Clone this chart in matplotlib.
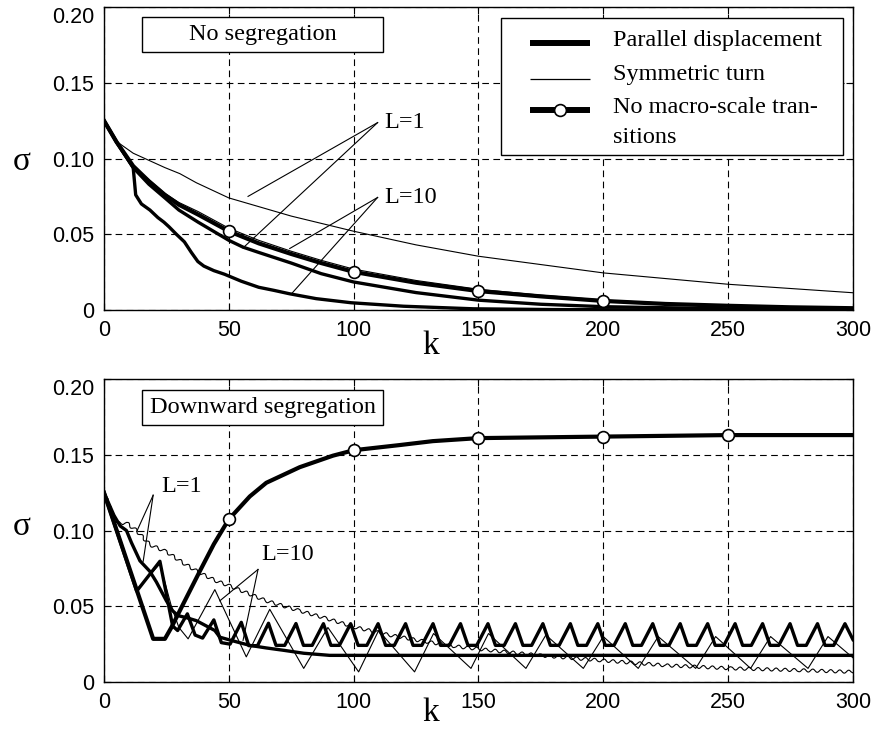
import matplotlib
matplotlib.use("Agg")
import matplotlib.pyplot as plt
from matplotlib.patches import Rectangle
from matplotlib.lines import Line2D

# ---------------- top panel: no segregation ----------------
# symmetric turn, L=1 (thin)
top_sym1_k = [0, 4.4, 11.7, 24.4, 30.4, 37, 50, 75, 100, 125, 150, 175, 200, 250, 300]
top_sym1_s = [0.125, 0.112, 0.1035, 0.094, 0.090, 0.084, 0.074, 0.062, 0.052, 0.043,
              0.0355, 0.030, 0.0245, 0.017, 0.0114]

# symmetric turn, L=10 (thin, just above the no-transition curve)
top_sym10_k = [0, 5, 11.7, 18, 24.4, 30, 37.7, 50, 62, 75, 87, 100, 125, 150, 175, 200,
               225, 250, 275, 300]
top_sym10_s = [0.125, 0.111, 0.095, 0.086, 0.077, 0.071, 0.065, 0.054, 0.046, 0.0388,
               0.0328, 0.027, 0.0195, 0.0137, 0.0098, 0.0066, 0.0045, 0.0031, 0.002, 0.0013]

# no macro-scale transitions (bold + circles)
top_nomacro_k = [0, 5, 11.7, 18, 24.4, 30, 37.7, 50, 62, 75, 87, 100, 125, 150, 175, 200,
                 225, 250, 275, 300]
top_nomacro_s = [0.125, 0.111, 0.095, 0.085, 0.076, 0.0695, 0.063, 0.052, 0.044, 0.037,
                 0.031, 0.0252, 0.018, 0.0125, 0.009, 0.006, 0.004, 0.0028, 0.0018, 0.0012]
top_marker_k = [50, 100, 150, 200]

# parallel displacement, L=1 (bold)
top_par1_k = [0, 5, 11.7, 18, 24.4, 30, 37.7, 50, 55.7, 62, 75, 87, 100, 125, 150, 175,
              200, 250, 300]
top_par1_s = [0.125, 0.111, 0.094, 0.083, 0.074, 0.066, 0.058, 0.046, 0.0415, 0.038,
              0.031, 0.024, 0.0185, 0.0115, 0.0065, 0.0038, 0.0022, 0.0008, 0.0004]

# parallel displacement, L=10 (bold, drops fast)
top_par10_k = [0, 5, 11.7, 12.7, 15, 18.4, 21.6, 24, 26, 29, 32.2, 35, 37.6, 40, 44,
               48.3, 55, 62, 68, 74.4, 85, 99, 120, 148, 180, 220, 300]
top_par10_s = [0.125, 0.111, 0.094, 0.076, 0.070, 0.066, 0.061, 0.058, 0.055,
               0.050, 0.045, 0.038, 0.032, 0.029, 0.026, 0.0236, 0.019, 0.015, 0.013,
               0.0107, 0.0075, 0.0048, 0.0025, 0.0008, 0.0003, 0.0001, 0.0]

# ---------------- bottom panel: downward segregation ----------------
# no macro-scale transitions (bold + circles)
bot_nomacro_k = [0, 19.7, 24.4, 27, 31.7, 38.4, 44, 50, 58.4, 65, 78.4, 91.7, 100, 118.4,
                 131.7, 150, 175, 200, 250, 300]
bot_nomacro_s = [0.125, 0.0285, 0.0285, 0.036, 0.0514, 0.0732, 0.091, 0.1074, 0.1225,
                 0.1315, 0.1418, 0.1494, 0.153, 0.1564, 0.159, 0.161, 0.1615, 0.162,
                 0.163, 0.163]
bot_marker_k = [50, 100, 150, 200, 250]

# parallel displacement, L=1 (bold, stepped descent)
bot_par1_k = [0, 4, 6.5, 9, 11, 14.4, 18.4, 21, 25, 27.5, 29.7, 33, 37, 41, 44.4, 46.4,
              52, 58.4, 65, 71.7, 80, 90.4, 300]
bot_par1_s = [0.125, 0.110, 0.103, 0.100, 0.092, 0.080, 0.073, 0.066, 0.0536, 0.047,
              0.0438, 0.0425, 0.0405, 0.037, 0.034, 0.0296, 0.027, 0.0242, 0.0225, 0.021,
              0.019, 0.0176, 0.0176]

# parallel displacement, L=10 (bold sawtooth): peak, end of fall, end of flat
bot_par10_k = [0, 13.1,
               22.4, 27.5, 29.5, 33.4, 36.5, 39.5, 44.0, 47.0, 50.5, 55.0, 58.0, 61.5,
               65.9, 68.9, 72.4, 76.9, 79.9, 83.4, 87.9, 90.9, 94.3,
               98.8, 101.8, 105.3, 109.8, 112.8, 116.3, 120.8, 123.8, 127.3,
               131.8, 134.8, 138.3, 142.8, 145.8, 149.3, 153.8, 156.8, 160.3,
               164.8, 167.8, 171.3, 175.8, 178.8, 182.3, 186.8, 189.8, 193.3,
               197.8, 200.8, 204.3, 208.8, 211.8, 215.3, 219.8, 222.8, 226.3,
               230.8, 233.8, 237.3, 241.8, 244.8, 248.3, 252.8, 255.8, 259.3,
               263.8, 266.8, 270.3, 274.8, 277.8, 281.3, 285.8, 288.8, 292.3,
               296.8, 300]
bot_par10_s = [0.125, 0.060,
               0.0797, 0.037, 0.034, 0.045, 0.031, 0.029, 0.041, 0.026, 0.025, 0.0394, 0.024, 0.024,
               0.0388, 0.0242, 0.0242, 0.0386, 0.0242, 0.0242, 0.0385, 0.0242, 0.0242,
               0.0385, 0.0242, 0.0242, 0.0385, 0.0242, 0.0242, 0.0385, 0.0242, 0.0242,
               0.0385, 0.0242, 0.0242, 0.0385, 0.0242, 0.0242, 0.0385, 0.0242, 0.0242,
               0.0385, 0.0242, 0.0242, 0.0385, 0.0242, 0.0242, 0.0385, 0.0242, 0.0242,
               0.0385, 0.0242, 0.0242, 0.0385, 0.0242, 0.0242, 0.0385, 0.0242, 0.0242,
               0.0385, 0.0242, 0.0242, 0.0385, 0.0242, 0.0242, 0.0385, 0.0242, 0.0242,
               0.0385, 0.0242, 0.0242, 0.0385, 0.0242, 0.0242, 0.0385, 0.0242, 0.0242,
               0.0385, 0.028]

# symmetric turn, L=1 (thin, small ripples)
bot_sym1_k = [0, 3, 5, 9, 13, 18.4, 25, 31.7, 38.4, 45, 50.4, 65, 78.4, 89, 101, 114.4,
              127.7, 141, 154.4, 175, 198.4, 225, 251.7, 278.4, 300]
bot_sym1_s = [0.125, 0.112, 0.105, 0.105, 0.100, 0.0906, 0.086, 0.0786, 0.072, 0.0667,
              0.0634, 0.0536, 0.047, 0.042, 0.036, 0.031, 0.027, 0.0235, 0.021, 0.0175,
              0.0144, 0.011, 0.009, 0.0078, 0.0067]

# symmetric turn, L=10 (thin, wide oscillation)
bot_sym10_k = [0, 13.1, 22.4, 27, 30, 33.7, 44.4, 57, 66.4, 80, 89.7, 102, 110, 124.4,
               132, 147, 154, 169, 177, 192, 200, 214, 222, 237, 245, 259, 267, 282,
               290, 300]
bot_sym10_s = [0.125, 0.061, 0.078, 0.050, 0.036, 0.0285, 0.061, 0.0166, 0.048, 0.009,
               0.036, 0.0067, 0.034, 0.0067, 0.032, 0.009, 0.032, 0.009, 0.031, 0.009,
               0.030, 0.009, 0.030, 0.009, 0.030, 0.009, 0.030, 0.009, 0.030, 0.016]

y_ticks = [0, 0.05, 0.10, 0.15, 0.20]
y_tick_labels = ["0", "0.05", "0.10", "0.15", "0.20"]
x_ticks = [0, 50, 100, 150, 200, 250, 300]

SERIF = "Liberation Serif"
SANS = "Liberation Sans"
TXT = 17.5
BOLD = 2.4
THIN = 0.8


def style_axes(ax):
    ax.set_xlim(0, 300)
    ax.set_ylim(0, 0.2)
    ax.set_xticks(x_ticks, [str(t) for t in x_ticks])
    ax.set_yticks(y_ticks, y_tick_labels)
    ax.grid(True, color="black", linestyle=(0, (6, 4)), linewidth=0.8)
    ax.tick_params(direction="in", length=5, width=0.8, top=True, right=True,
                   labelsize=15.5, pad=7)
    for lab in ax.get_xticklabels() + ax.get_yticklabels():
        lab.set_fontfamily(SANS)
    for lab in ax.get_yticklabels():
        if lab.get_text() == "0.20":
            lab.set_va("top")
    for sp in ax.spines.values():
        sp.set_linewidth(1.0)


def title_box(ax, text, y0, y1):
    ax.add_patch(Rectangle((0.0503, y0), 0.3227, y1 - y0, transform=ax.transAxes,
                           facecolor="white", edgecolor="black", linewidth=1.0, zorder=6))
    ax.text(0.0503 + 0.3227 / 2, (y0 + y1) / 2, text, transform=ax.transAxes,
            ha="center", va="center", fontsize=TXT, family=SERIF, zorder=7)


def pointer(ax, label, origin, ends, text_xy):
    for e in ends:
        ax.plot([origin[0], e[0]], [origin[1], e[1]], color="black", lw=THIN, zorder=5)
    ax.text(text_xy[0], text_xy[1], label, ha="left", va="center", fontsize=TXT,
            family=SERIF, zorder=7)


def main():
    fig = plt.figure(figsize=(8.76, 7.31), dpi=100)
    ax1 = fig.add_axes([0.1187, 0.5759, 0.855, 0.4145])
    ax2 = fig.add_axes([0.1187, 0.0670, 0.855, 0.4145])

    # top panel
    ax1.plot(top_sym1_k, top_sym1_s, color="black", lw=THIN, zorder=3)
    ax1.plot(top_par10_k, top_par10_s, color="black", lw=BOLD, zorder=3)
    ax1.plot(top_par1_k, top_par1_s, color="black", lw=BOLD, zorder=3)
    ax1.plot(top_sym10_k, top_sym10_s, color="black", lw=THIN, zorder=3)
    ax1.plot(top_nomacro_k, top_nomacro_s, color="black", lw=BOLD + 0.6, zorder=4,
             marker="o", markersize=8.5, markerfacecolor="white",
             markeredgecolor="black", markeredgewidth=1.2,
             markevery=[top_nomacro_k.index(k) for k in top_marker_k])
    style_axes(ax1)
    title_box(ax1, "No segregation", 0.8505, 0.966)
    pointer(ax1, "L=1", (109.6, 0.1237), [(57.7, 0.075), (55.7, 0.041)], (112.4, 0.1237))
    pointer(ax1, "L=10", (109.6, 0.0743), [(74.4, 0.0406), (75.1, 0.0107)], (112.4, 0.0743))

    # legend drawn in axes coordinates
    ax1.add_patch(Rectangle((0.5297, 0.5116), 0.457, 0.4521, transform=ax1.transAxes,
                            facecolor="white", edgecolor="black", linewidth=1.0, zorder=6))
    rows = [(0.880, 4.3, None), (0.762, 0.9, None), (0.660, 4.3, "o")]
    for y, lw, mk in rows:
        ax1.add_line(Line2D([0.569, 0.649], [y, y], transform=ax1.transAxes,
                            color="black", lw=lw, solid_capstyle="butt", zorder=7))
        if mk:
            ax1.add_line(Line2D([0.609], [y], transform=ax1.transAxes, marker=mk,
                                markersize=8.5, markerfacecolor="white",
                                markeredgecolor="black", markeredgewidth=1.2, zorder=8))
    legend_text = [("Parallel displacement", 0.891), ("Symmetric turn", 0.776),
                   ("No macro-scale tran-", 0.667), ("sitions", 0.571)]
    for text, y in legend_text:
        ax1.text(0.680, y, text, transform=ax1.transAxes, ha="left", va="center",
                 fontsize=TXT, family=SERIF, zorder=8)

    # bottom panel
    ripple, = ax2.plot(bot_sym1_k, bot_sym1_s, color="black", lw=THIN, zorder=3)
    ripple.set_sketch_params(scale=1.6, length=9, randomness=1.0)
    ax2.plot(bot_sym10_k, bot_sym10_s, color="black", lw=THIN, zorder=3)
    ax2.plot(bot_par1_k, bot_par1_s, color="black", lw=BOLD, zorder=3)
    ax2.plot(bot_par10_k, bot_par10_s, color="black", lw=BOLD, zorder=3)
    ax2.plot(bot_nomacro_k, bot_nomacro_s, color="black", lw=BOLD + 0.6, zorder=4,
             marker="o", markersize=8.5, markerfacecolor="white",
             markeredgecolor="black", markeredgewidth=1.2,
             markevery=[bot_nomacro_k.index(k) for k in bot_marker_k])
    style_axes(ax2)
    title_box(ax2, "Downward segregation", 0.848, 0.9637)
    pointer(ax2, "L=1", (19.7, 0.1233), [(13.1, 0.0993), (15.7, 0.0797)], (23.1, 0.1288))
    pointer(ax2, "L=10", (61.7, 0.0743), [(46.4, 0.0536), (55.7, 0.0275)], (63.1, 0.0845))

    for yc in (162, 527):
        fig.text(22 / 876, 1 - yc / 731, "σ", ha="center", va="center",
                 fontsize=24, family=SERIF)
    for yc in (346, 713):
        fig.text(431 / 876, 1 - yc / 731, "k", ha="center", va="center",
                 fontsize=24, family=SERIF)

    fig.savefig("out.png", dpi=100, facecolor="white")
    plt.close(fig)


if __name__ == "__main__":
    main()
